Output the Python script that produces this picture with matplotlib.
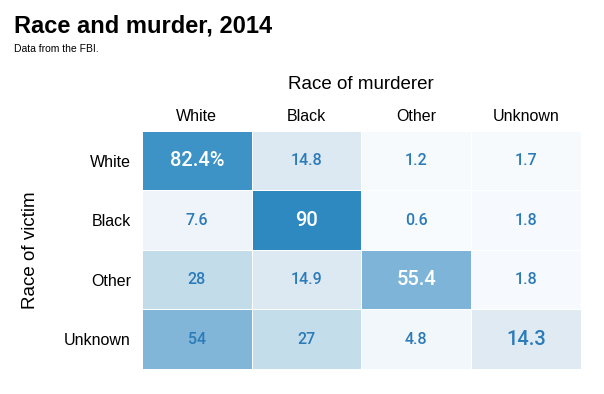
import matplotlib
matplotlib.use("Agg")
import matplotlib.pyplot as plt
import numpy as np
from matplotlib.colors import LinearSegmentedColormap

murderer = ["White", "Black", "Other", "Unknown"]
victim = ["White", "Black", "Other", "Unknown"]
values = [
    [82.4, 14.8, 1.2, 1.7],
    [7.6, 90, 0.6, 1.8],
    [28, 14.9, 55.4, 1.8],
    [54, 27, 4.8, 14.3],
]
labels = [
    ["82.4%", "14.8", "1.2", "1.7"],
    ["7.6", "90", "0.6", "1.8"],
    ["28", "14.9", "55.4", "1.8"],
    ["54", "27", "4.8", "14.3"],
]

plt.rcParams['font.family'] = ['Liberation Sans', 'DejaVu Sans']
fig = plt.figure(figsize=(6.04, 3.94), dpi=100)
ax = fig.add_axes([0.235, 0.0635, 0.727, 0.604])

cmap = LinearSegmentedColormap.from_list("b", [
    (0.0, "#f8fbfe"), (0.08, "#eef4fa"), (0.165, "#dde9f2"), (0.31, "#c2dcea"),
    (0.61, "#7fb5d7"), (0.915, "#3d93c6"), (1.0, "#2e89c0")])
data = np.array(values)
ax.pcolormesh(np.arange(5), np.arange(5), data, cmap=cmap, vmin=0, vmax=90,
              edgecolors="white", linewidth=0.6)
ax.set_xlim(0, 4)
ax.set_ylim(4, 0)
for i in range(4):
    for j in range(4):
        v = values[i][j]
        color = "white" if v > 55 else "#2b7bb9"
        size = 14.5 if i == j else 11.5
        ax.text(j + 0.5, i + 0.5, labels[i][j], ha="center", va="center",
                color=color, fontsize=size, family=["Roboto", "DejaVu Sans"],
                fontweight="medium")

ax.set_xticks(np.arange(4) + 0.5)
ax.set_xticklabels(murderer, fontsize=11.5)
ax.xaxis.tick_top()
ax.set_yticks(np.arange(4) + 0.5)
ax.set_yticklabels(victim, fontsize=11.5)
ax.tick_params(length=0)
ax.tick_params(axis="x", pad=5)
ax.tick_params(axis="y", pad=8)
for s in ax.spines.values():
    s.set_visible(False)

fig.text(0.023, 0.935, "Race and murder, 2014", fontsize=17, fontweight="bold", ha="left", va="center")
fig.text(0.023, 0.876, "Data from the FBI.", fontsize=7.5, ha="left", va="center")
fig.text(0.598, 0.785, "Race of murderer", fontsize=13.5, ha="center", va="center")
fig.text(0.05, 0.365, "Race of victim", fontsize=13.5, rotation=90, ha="center", va="center")

fig.savefig("out.png", dpi=100, facecolor="white")
